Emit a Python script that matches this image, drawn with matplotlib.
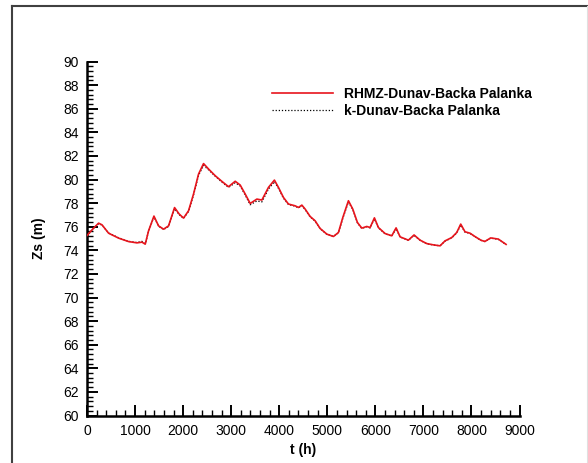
import matplotlib
matplotlib.use("Agg")
import matplotlib.pyplot as plt
from matplotlib.lines import Line2D
from matplotlib.ticker import MultipleLocator

plt.rcParams['font.family'] = ['Liberation Sans', 'DejaVu Sans']

# time (h)
t_obs = [0, 137, 241, 312, 449, 658, 865, 1040, 1144, 1212, 1281, 1393, 1489, 1593,
         1697, 1822, 1919, 2009, 2113, 2217, 2321, 2425, 2529, 2668, 2807, 2945, 3084,
         3188, 3292, 3396, 3535, 3639, 3776, 3900, 3984, 4088, 4192, 4331, 4400, 4471,
         4540, 4643, 4747, 4851, 4991, 5128, 5232, 5323, 5440, 5531, 5627, 5718, 5822,
         5891, 5981, 6064, 6203, 6342, 6432, 6515, 6688, 6806, 6931, 7070, 7208, 7347,
         7451, 7590, 7694, 7777, 7866, 7970, 8080, 8200, 8280, 8400, 8560, 8721]
# Observed (RHMZ) water level (m)
z_obs = [75.25, 75.88, 76.30, 76.16, 75.45, 75.03, 74.74, 74.63, 74.69, 74.52, 75.65,
         76.90, 76.07, 75.79, 76.07, 77.62, 77.07, 76.73, 77.35, 78.77, 80.46, 81.35,
         80.89, 80.32, 79.84, 79.39, 79.85, 79.53, 78.77, 77.97, 78.34, 78.26, 79.33,
         79.95, 79.33, 78.48, 77.92, 77.77, 77.63, 77.83, 77.49, 76.87, 76.50, 75.85,
         75.37, 75.17, 75.51, 76.78, 78.20, 77.49, 76.36, 75.88, 76.02, 75.93, 76.75,
         75.93, 75.42, 75.23, 75.90, 75.14, 74.86, 75.30, 74.86, 74.57, 74.46, 74.38,
         74.80, 75.08, 75.51, 76.22, 75.57, 75.45, 75.15, 74.85, 74.75, 75.05, 74.95,
         74.50]

# Computed (k) water level (m)
t_mod = t_obs
z_mod = [75.22, 75.85, 76.25, 76.14, 75.47, 75.06, 74.76, 74.66, 74.76, 74.55, 75.60,
         76.82, 76.05, 75.76, 76.02, 77.52, 77.02, 76.70, 77.30, 78.70, 80.35, 81.20,
         80.82, 80.28, 79.78, 79.33, 79.72, 79.45, 78.68, 77.86, 78.18, 78.10, 79.18,
         79.82, 79.25, 78.42, 77.88, 77.74, 77.60, 77.78, 77.45, 76.83, 76.47, 75.83,
         75.36, 75.17, 75.48, 76.70, 78.10, 77.45, 76.33, 75.85, 76.00, 75.90, 76.66,
         75.90, 75.40, 75.21, 75.84, 75.13, 74.85, 75.26, 74.85, 74.56, 74.45, 74.38,
         74.78, 75.05, 75.47, 76.14, 75.54, 75.43, 75.13, 74.84, 74.74, 75.03, 74.93,
         74.48]

label_obs = "RHMZ-Dunav-Backa Palanka"
label_mod = "k-Dunav-Backa Palanka"

W, H = 588, 463
fig = plt.figure(figsize=(W / 100, H / 100), dpi=100)
L, R, T, B = 87.0, 519.5, 61.5, 415.5
ax = fig.add_axes([L / W, 1 - B / H, (R - L) / W, (B - T) / H])

ax.plot(t_mod, z_mod, color='black', lw=0.9, ls=(0, (1, 1.5)), label=label_mod, zorder=2)
ax.plot(t_obs, z_obs, color='#e8141c', lw=1.2, label=label_obs, zorder=3,
        solid_joinstyle='round')

ax.set_xlim(0, 9000)
ax.set_ylim(60, 90)
ax.xaxis.set_major_locator(MultipleLocator(1000))
ax.xaxis.set_minor_locator(MultipleLocator(200))
ax.yaxis.set_major_locator(MultipleLocator(2))
ax.yaxis.set_minor_locator(MultipleLocator(0.4))

for s in ['top', 'right']:
    ax.spines[s].set_visible(False)
for s in ['left', 'bottom']:
    ax.spines[s].set_linewidth(1.8)

ax.tick_params(which='major', direction='in', length=8, width=1.4, labelsize=10, pad=6)
ax.tick_params(which='minor', direction='in', length=4, width=1.0)

ax.set_xlabel('t (h)', fontsize=10, fontweight='bold', labelpad=4)
ax.set_ylabel('Zs (m)', fontsize=10, fontweight='bold', labelpad=12)

handles, labels = ax.get_legend_handles_labels()
order = [labels.index(label_obs), labels.index(label_mod)]
ax.legend([handles[i] for i in order], [labels[i] for i in order],
          loc='upper left', bbox_to_anchor=(272 / W, 1 - 86.5 / H),
          bbox_transform=fig.transFigure, frameon=False, borderpad=0,
          borderaxespad=0, handlelength=4.4, handletextpad=0.8,
          labelspacing=0.25, prop={'weight': 'bold', 'size': 10})

# outer frame
fig.add_artist(Line2D([12 / W, 12 / W], [0, 1 - 5.5 / H], transform=fig.transFigure,
                      color='#404040', lw=1.5))
fig.add_artist(Line2D([12 / W, 587 / W], [1 - 5.5 / H, 1 - 5.5 / H], transform=fig.transFigure,
                      color='#404040', lw=1.5))
fig.add_artist(Line2D([587 / W, 587 / W], [0, 1 - 5.5 / H], transform=fig.transFigure,
                      color='#e0e0e0', lw=0.8))

fig.savefig('out.png', dpi=100)
